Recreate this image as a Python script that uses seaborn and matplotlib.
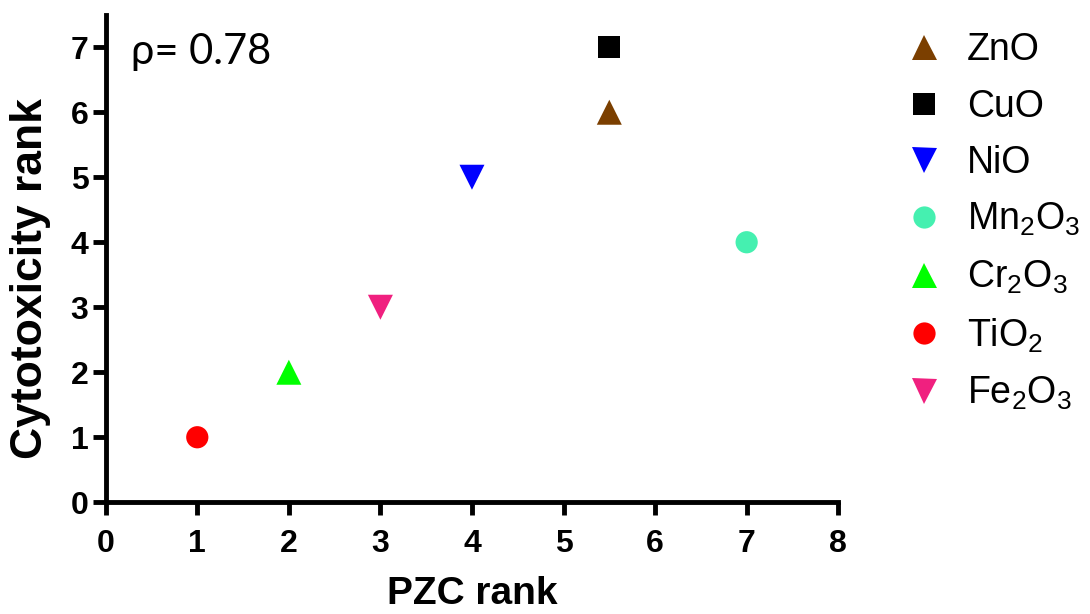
import matplotlib
matplotlib.use("Agg")
import matplotlib.pyplot as plt
from matplotlib.lines import Line2D
import seaborn as sns
import pandas as pd

# Oxide nanoparticles: point-of-zero-charge rank vs cytotoxicity rank
oxides = ["ZnO", "CuO", "NiO", "Mn2O3", "Cr2O3", "TiO2", "Fe2O3"]
labels = ["ZnO", "CuO", "NiO", r"Mn$_2$O$_3$", r"Cr$_2$O$_3$", r"TiO$_2$", r"Fe$_2$O$_3$"]
pzc_rank = [5.5, 5.5, 4, 7, 2, 1, 3]
cyto_rank = [6, 7, 5, 4, 2, 1, 3]
colors = ["#7B3F00", "#000000", "#0000FF", "#45F0B0", "#00FF00", "#FF0000", "#F0207F"]
markers = ["^", "s", "v", "o", "^", "o", "v"]
rho_text = "ρ= 0.78"

df = pd.DataFrame({"oxide": oxides, "pzc": pzc_rank, "cyto": cyto_rank})
palette = dict(zip(oxides, colors))
marker_map = dict(zip(oxides, markers))
# triangles are drawn a bit larger than squares and circles
msize = {"^": 18, "v": 18, "s": 16, "o": 16}
size_map = {o: msize[m] ** 2 for o, m in zip(oxides, markers)}

sns.set_style("ticks")
plt.rcParams["font.family"] = ["Liberation Sans", "DejaVu Sans"]
plt.rcParams["mathtext.fontset"] = "custom"
plt.rcParams["mathtext.rm"] = "Liberation Sans"
plt.rcParams["mathtext.it"] = "Liberation Sans:italic"
plt.rcParams["text.color"] = "black"
plt.rcParams["axes.labelcolor"] = "black"
plt.rcParams["xtick.color"] = "black"
plt.rcParams["ytick.color"] = "black"
plt.rcParams["axes.edgecolor"] = "black"

fig = plt.figure(figsize=(10.9, 6.14), dpi=100)
ax = fig.add_axes([0.097, 0.182, 0.672, 0.794])

sns.scatterplot(data=df, x="pzc", y="cyto", hue="oxide", style="oxide",
                size="oxide", sizes=size_map, size_order=oxides,
                hue_order=oxides, style_order=oxides, palette=palette,
                markers=marker_map, linewidth=0, ax=ax, legend=False,
                zorder=3, clip_on=False)

ax.set_xlim(0, 8)
ax.set_ylim(0, 7.5)
ax.set_xticks(range(0, 9))
ax.set_yticks(range(0, 8))

for side in ["top", "right"]:
    ax.spines[side].set_visible(False)
for side in ["left", "bottom"]:
    ax.spines[side].set_linewidth(3.5)
ax.tick_params(axis="both", width=3.5, length=9.5, labelsize=23)
ax.tick_params(axis="x", pad=10)
ax.tick_params(axis="y", pad=3)
for lab in ax.get_xticklabels() + ax.get_yticklabels():
    lab.set_fontweight("bold")

ax.set_xlabel("PZC rank", fontsize=28, fontweight="bold", labelpad=12)
ax.set_ylabel("Cytotoxicity rank", fontsize=32, fontweight="bold")
ax.yaxis.set_label_coords(-0.075, 0.458)

ax.text(0.034, 0.923, rho_text, transform=ax.transAxes, fontsize=30,
        family=["Lato", "DejaVu Sans"], va="center", ha="left")

handles = [Line2D([], [], linestyle="none", marker=m, color=c,
                  markersize=msize[m], markeredgewidth=0)
           for m, c in zip(markers, colors)]
fig.legend(handles, labels, loc="upper left", bbox_to_anchor=(0.803, 0.99),
           frameon=False, fontsize=27, handletextpad=0.55, labelspacing=0.54,
           handlelength=1.2, borderpad=0.2)

fig.savefig("out.png", dpi=100)
